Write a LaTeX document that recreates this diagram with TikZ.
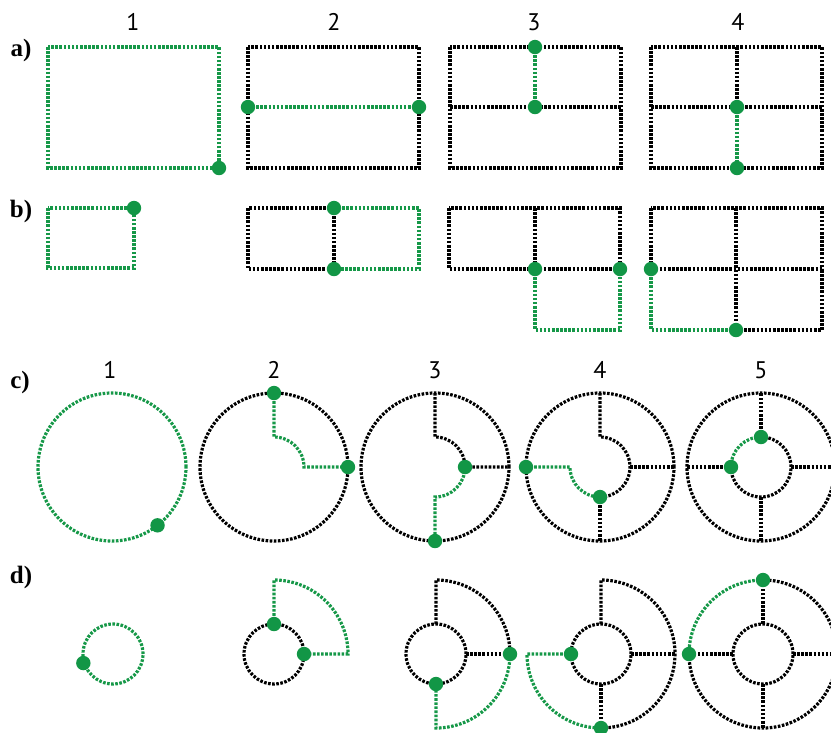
\documentclass[tikz,border=0pt]{standalone}
\usepackage{fontspec}
\setmainfont{Liberation Serif}
\newfontfamily\numfont{PT Sans}
\definecolor{grn}{RGB}{22,152,72}
\definecolor{dotg}{RGB}{18,150,70}
\tikzset{
  bl/.style={draw=black,line width=3.2pt,dash pattern=on 2.6pt off 1.5pt},
  gl/.style={draw=grn,line width=3.2pt,dash pattern=on 2.6pt off 1.5pt},
  num/.style={font=\numfont\fontsize{24}{28}\selectfont,inner sep=0pt},
  lab/.style={font=\bfseries\fontsize{25}{29}\selectfont,inner sep=0pt},
}
\newcommand{\gdot}[1]{\fill[dotg] #1 circle[radius=7.2];}
\begin{document}
\begin{tikzpicture}[x=1pt,y=-1pt]
\useasboundingbox (0,0) rectangle (831,732);
\clip (0,0) rectangle (831,732);
% labels
\node[lab] (la) at (21,50) {a)};
\node[lab] (lb) at (21,211) {b)};
\node[lab] (lc) at (20,382) {c)};
\node[lab] (ld) at (21,577) {d)};
\node[num] (n1) at (133,22) {1};
\node[num] (n2) at (334,22) {2};
\node[num] (n3) at (534,22) {3};
\node[num] (n4) at (738,22) {4};
\node[num] (m1) at (110,370) {1};
\node[num] (m2) at (274,370) {2};
\node[num] (m3) at (435,370) {3};
\node[num] (m4) at (600,370) {4};
\node[num] (m5) at (761,370) {5};
% row a
\draw[gl] (48,47) rectangle (219,168);
\gdot{(219,168)}
\draw[bl] (248,47) rectangle (419,168);
\draw[gl] (248,107) -- (419,107);
\gdot{(248,107)}\gdot{(419,107)}
\draw[bl] (450,47) rectangle (621,168);
\draw[bl] (450,107) -- (621,107);
\draw[gl] (535,47) -- (535,107);
\gdot{(535,47)}\gdot{(535,107)}
\draw[bl] (651,47) rectangle (822,168);
\draw[bl] (651,107) -- (822,107);
\draw[bl] (737,47) -- (737,107);
\draw[gl] (737,107) -- (737,168);
\gdot{(737,107)}\gdot{(737,168)}
% row b
\draw[gl] (48,208) rectangle (134,268);
\gdot{(134,208)}
\draw[bl] (334,208) -- (248,208) -- (248,269) -- (334,269);
\draw[bl] (334,208) -- (334,269);
\draw[gl] (334,208) -- (419,208) -- (419,269) -- (334,269);
\gdot{(334,208)}\gdot{(334,269)}
\draw[bl] (449,208) rectangle (620,269);
\draw[bl] (535,208) -- (535,269);
\draw[gl] (535,269) -- (535,330) -- (620,330) -- (620,269);
\gdot{(535,269)}\gdot{(620,269)}
\draw[bl] (651,208) rectangle (822,269);
\draw[bl] (736,208) -- (736,330);
\draw[bl] (736,330) -- (822,330) -- (822,269);
\draw[gl] (651,269) -- (651,330) -- (736,330);
\gdot{(651,269)}\gdot{(736,330)}
% row c
\begin{scope}[shift={(112,467)},yscale=-1]
\draw[gl] (0,0) circle[radius=74];
\gdot{(-52:74)}
\end{scope}
\begin{scope}[shift={(274,467)},yscale=-1]
\draw[bl] (0,0) circle[radius=74];
\draw[gl] (0,74) -- (0,30) arc[start angle=90,end angle=0,radius=30] -- (74,0);
\gdot{(0,74)}\gdot{(74,0)}
\end{scope}
\begin{scope}[shift={(435,467)},yscale=-1]
\draw[bl] (0,0) circle[radius=74];
\draw[bl] (0,74) -- (0,30) arc[start angle=90,end angle=0,radius=30] -- (74,0);
\draw[gl] (30,0) arc[start angle=0,end angle=-90,radius=30] -- (0,-74);
\gdot{(30,0)}\gdot{(0,-74)}
\end{scope}
\begin{scope}[shift={(600,467)},yscale=-1]
\draw[bl] (0,0) circle[radius=74];
\draw[bl] (0,74) -- (0,30) arc[start angle=90,end angle=-90,radius=30];
\draw[bl] (30,0) -- (74,0);
\draw[bl] (0,-30) -- (0,-74);
\draw[gl] (-74,0) -- (-30,0) arc[start angle=180,end angle=270,radius=30];
\gdot{(-74,0)}\gdot{(0,-30)}
\end{scope}
\begin{scope}[shift={(761,467)},yscale=-1]
\draw[bl] (0,0) circle[radius=74];
\draw[bl] (-30,0) arc[start angle=180,end angle=450,radius=30];
\draw[gl] (0,30) arc[start angle=90,end angle=180,radius=30];
\draw[bl] (0,30) -- (0,74);
\draw[bl] (30,0) -- (74,0);
\draw[bl] (0,-30) -- (0,-74);
\draw[bl] (-30,0) -- (-74,0);
\gdot{(0,30)}\gdot{(-30,0)}
\end{scope}
% row d
\begin{scope}[shift={(113,654)},yscale=-1]
\draw[gl] (0,0) circle[radius=30];
\gdot{(197:31)}
\end{scope}
\begin{scope}[shift={(274,654)},yscale=-1]
\draw[bl] (0,0) circle[radius=30];
\draw[gl] (0,30) -- (0,74) arc[start angle=90,end angle=0,radius=74] -- (30,0);
\gdot{(0,30)}\gdot{(30,0)}
\end{scope}
\begin{scope}[shift={(436,654)},yscale=-1]
\draw[bl] (0,0) circle[radius=30];
\draw[bl] (0,30) -- (0,74) arc[start angle=90,end angle=0,radius=74];
\draw[bl] (30,0) -- (74,0);
\draw[gl] (74,0) arc[start angle=0,end angle=-90,radius=74] -- (0,-30);
\gdot{(74,0)}\gdot{(0,-30)}
\end{scope}
\begin{scope}[shift={(601,654)},yscale=-1]
\draw[bl] (0,0) circle[radius=30];
\draw[bl] (0,30) -- (0,74) arc[start angle=90,end angle=-90,radius=74];
\draw[bl] (30,0) -- (74,0);
\draw[bl] (0,-30) -- (0,-74);
\draw[gl] (-30,0) -- (-74,0) arc[start angle=180,end angle=270,radius=74];
\gdot{(-30,0)}\gdot{(0,-74)}
\end{scope}
\begin{scope}[shift={(763,654)},yscale=-1]
\draw[bl] (0,0) circle[radius=30];
\draw[bl] (-74,0) arc[start angle=180,end angle=450,radius=74];
\draw[gl] (0,74) arc[start angle=90,end angle=180,radius=74];
\draw[bl] (0,30) -- (0,74);
\draw[bl] (30,0) -- (74,0);
\draw[bl] (0,-30) -- (0,-74);
\draw[bl] (-30,0) -- (-74,0);
\gdot{(0,74)}\gdot{(-74,0)}
\end{scope}
\end{tikzpicture}
\end{document}
